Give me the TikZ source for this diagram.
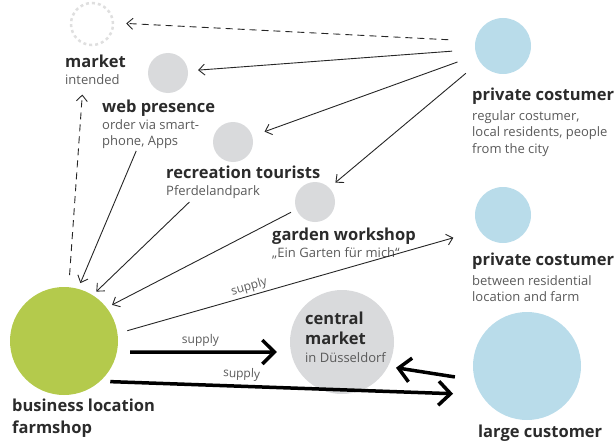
\documentclass[tikz,border=0pt]{standalone}
\usepackage{fontspec}
\setmainfont{Open Sans}
\usetikzlibrary{arrows.meta}
\definecolor{farmgreen}{HTML}{B4CA4C}
\definecolor{custblue}{HTML}{B9DCEA}
\definecolor{ballgray}{HTML}{D9DADC}
\definecolor{txtdark}{HTML}{2B2B2B}
\definecolor{txtsub}{HTML}{5A5A5A}
\newcommand{\lbltitle}[1]{{\fontsize{16.5}{18}\selectfont\bfseries\color{txtdark}#1}}

\begin{document}
\begin{tikzpicture}[x=1pt, y=-1pt,
    ball/.style={circle, inner sep=0pt, draw=none},
    lbl/.style={anchor=north west, inner sep=0pt, align=left, text=txtsub, font=\fontsize{13}{16.5}\selectfont},
    link/.style={-{Straight Barb[length=6pt,width=11pt]}, line width=0.9pt, black!85},
    dashlink/.style={link, dash pattern=on 7pt off 5pt},
    supplylink/.style={-{Straight Barb[length=12pt,width=24pt]}, line width=3.5pt, black},
    supplylbl/.style={font=\fontsize{12}{14}\selectfont, text=txtsub, inner sep=1pt}]
    \useasboundingbox (0,0) rectangle (615,444);

    % Draw the customer circles
    \node[ball, fill=custblue, minimum size=56pt] (pcone) at (503,46) {};
    \node[ball, fill=custblue, minimum size=56pt] (pctwo) at (503,215) {};
    \node[ball, fill=custblue, minimum size=108pt] (large) at (527,366) {};

    % Draw the farm and the markets
    \node[ball, fill=farmgreen, minimum size=108pt] (farm) at (64,341) {};
    \node[ball, fill=ballgray, minimum size=104pt] (central) at (342,342) {};
    \node[ball, fill=ballgray, minimum size=40pt] (web) at (168,73) {};
    \node[ball, fill=ballgray, minimum size=40pt] (recr) at (233,142) {};
    \node[ball, fill=ballgray, minimum size=40pt] (garden) at (315,202) {};
    \node[ball, draw=gray!25, line width=2.5pt, dash pattern=on 3pt off 3pt, minimum size=42pt] (market) at (92,24) {};

    % Labels
    \node[lbl] (marketlbl) at (65,55) {\lbltitle{market}\\intended};
    \node[lbl] (webtxt) at (102,100) {\lbltitle{web presence}\\order via smart-\\phone, Apps};
    \node[lbl] (recrtxt) at (166,166) {\lbltitle{recreation tourists}\\Pferdelandpark};
    \node[lbl] (gardentxt) at (272,228) {\lbltitle{garden workshop}\\„Ein Garten für mich“};
    \node[lbl] (pconetxt) at (472,88) {\lbltitle{private costumer}\\[3pt]regular costumer,\\local residents, people\\from the city};
    \node[lbl] (pctwotxt) at (472,253) {\lbltitle{private costumer}\\[3pt]between residential\\location and farm};
    \node[lbl] (largetxt) at (478,425) {\lbltitle{large customer}};
    \node[lbl] (farmtxt) at (12,399) {\lbltitle{business location}\\[5pt]\lbltitle{farmshop}};
    \node[lbl] (centraltxt) at (305,312) {\lbltitle{central}\\[3pt]\lbltitle{market}\\[2pt]in Düsseldorf};

    % Arrows from the private costumers
    \draw[dashlink, shorten <=27pt, shorten >=12pt] (pcone.170) -- (market.3);
    \draw[link, shorten <=23pt, shorten >=10pt] (pcone.187) -- (web.6);
    \draw[link, shorten <=20pt, shorten >=13pt] (pcone.199) -- (recr.17);
    \draw[link, shorten <=18pt, shorten >=8pt] (pcone.214) -- (garden.45);

    % Arrows to the farm
    \draw[dashlink, shorten <=12pt, shorten >=10pt] (farm.85) -- ([xshift=18pt]marketlbl.south west);
    \draw[link, shorten <=2pt, shorten >=6pt] ([xshift=35pt]webtxt.south west) -- (farm.75);
    \draw[link, shorten <=5pt, shorten >=5pt] ([xshift=27pt]recrtxt.south west) -- (farm.58);
    \draw[link, shorten <=6pt, shorten >=6pt] (garden.202) -- (farm.38);

    % Supply
    \draw[link, shorten <=10pt, shorten >=27pt] (farm.8) -- node[supplylbl, pos=0.37, sloped, above=1pt] {supply} (pctwo.213);
    \draw[supplylink, shorten <=13pt, shorten >=14pt] (farm.-12) -- node[supplylbl, pos=0.48, above=3pt] {supply} (central.191);
    \draw[supplylink, shorten <=10pt, shorten >=28pt] (farm.-48) -- node[supplylbl, pos=0.37, sloped, above=3pt] {supply} (large.212);
    \draw[supplylink, shorten <=20pt, shorten >=8pt] (large.195) -- (central.-28);
\end{tikzpicture}
\end{document}
